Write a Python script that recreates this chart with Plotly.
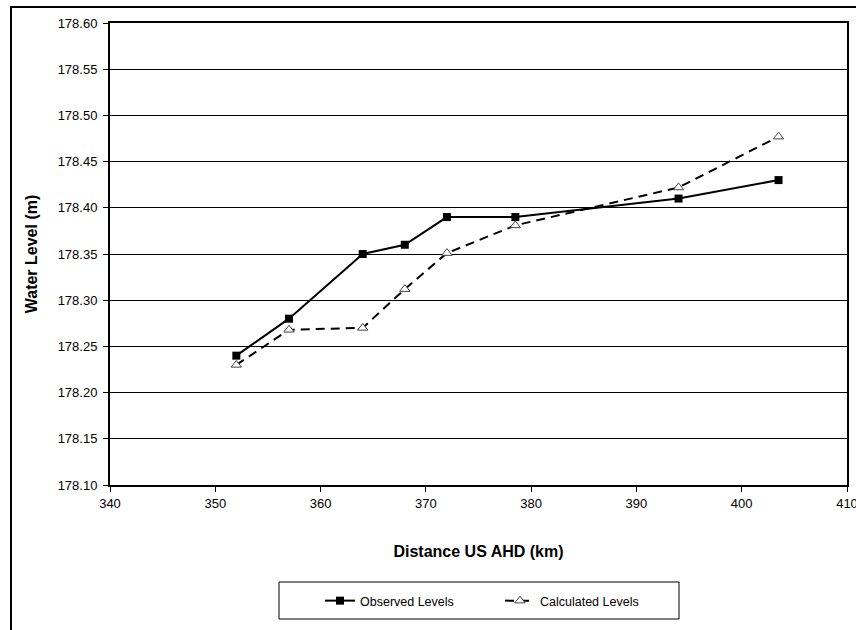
import plotly.graph_objects as go

distance_km = [352.0, 357.0, 364.0, 368.0, 372.0, 378.5, 394.0, 403.5]
observed_levels = [178.24, 178.28, 178.35, 178.36, 178.39, 178.39, 178.41, 178.43]
calculated_levels = [178.23, 178.268, 178.27, 178.312, 178.351, 178.381, 178.422, 178.477]

x_ticks = [340, 350, 360, 370, 380, 390, 400, 410]
y_ticks = [178.10, 178.15, 178.20, 178.25, 178.30, 178.35, 178.40, 178.45, 178.50, 178.55, 178.60]

FONT = "Liberation Sans, Arial, sans-serif"

fig = go.Figure()
fig.add_trace(go.Scatter(
    x=distance_km, y=observed_levels, name="Observed Levels",
    mode="lines+markers",
    line=dict(color="black", width=2),
    marker=dict(symbol="square", size=8, color="black"),
))
fig.add_trace(go.Scatter(
    x=distance_km, y=calculated_levels, name="Calculated Levels",
    mode="lines+markers",
    line=dict(color="black", width=2, dash="9px,6px"),
    marker=dict(symbol="triangle-up", size=9, color="white",
                line=dict(color="#444444", width=1)),
))

L, R, T, B = 110, 9, 23, 145
W, H = 856, 630
pw = W - L - R
ph = H - T - B

def px_x(p):
    return (p - L) / pw

def px_y(p):
    return (H - B - p) / ph

fig.update_layout(
    width=W, height=H,
    margin=dict(l=L, r=R, t=T, b=B, autoexpand=False),
    paper_bgcolor="white", plot_bgcolor="white",
    font=dict(family=FONT, size=12, color="black"),
    showlegend=True,
    legend=dict(
        orientation="h",
        x=px_x(320), xanchor="left",
        y=px_y(601), yanchor="middle",
        font=dict(family=FONT, size=12.5, color="black"),
        bgcolor="rgba(0,0,0,0)",
        borderwidth=0,
        entrywidth=135, entrywidthmode="pixels",
        itemwidth=30,
    ),
    xaxis=dict(
        range=[340, 410], tickvals=x_ticks, ticktext=[str(v) for v in x_ticks],
        showgrid=False, zeroline=False, automargin=False,
        ticklabeloverflow="allow",
        showline=True, linecolor="black", linewidth=2, mirror=True,
        ticks="outside", ticklen=5, tickcolor="black", tickwidth=1,
        tickfont=dict(family=FONT, size=13, color="black"),
        title=dict(text="<b>Distance US AHD (km)</b>",
                   font=dict(family=FONT, size=16, color="black"),
                   standoff=36),
    ),
    yaxis=dict(
        range=[178.10, 178.60], tickvals=y_ticks,
        ticktext=[f"{v:.2f}" for v in y_ticks],
        showgrid=True, gridcolor="black", gridwidth=1,
        zeroline=False, automargin=False,
        showline=True, linecolor="black", linewidth=2, mirror=True,
        ticks="outside", ticklen=5, tickcolor="black", tickwidth=1,
        ticklabelstandoff=3,
        tickfont=dict(family=FONT, size=13, color="black"),
        title=dict(text="<b>Water Level (m)</b>",
                   font=dict(family=FONT, size=16, color="black"),
                   standoff=16),
    ),
    shapes=[
        dict(type="rect", xref="paper", yref="paper",
             x0=px_x(11), x1=px_x(11 + 2000), y0=px_y(7), y1=px_y(7 + 2000),
             line=dict(color="black", width=2), layer="below"),
        dict(type="rect", xref="paper", yref="paper",
             x0=px_x(279), x1=px_x(679), y0=px_y(619), y1=px_y(582),
             line=dict(color="black", width=1), layer="below"),
    ],
)

fig.write_html("out.html")
